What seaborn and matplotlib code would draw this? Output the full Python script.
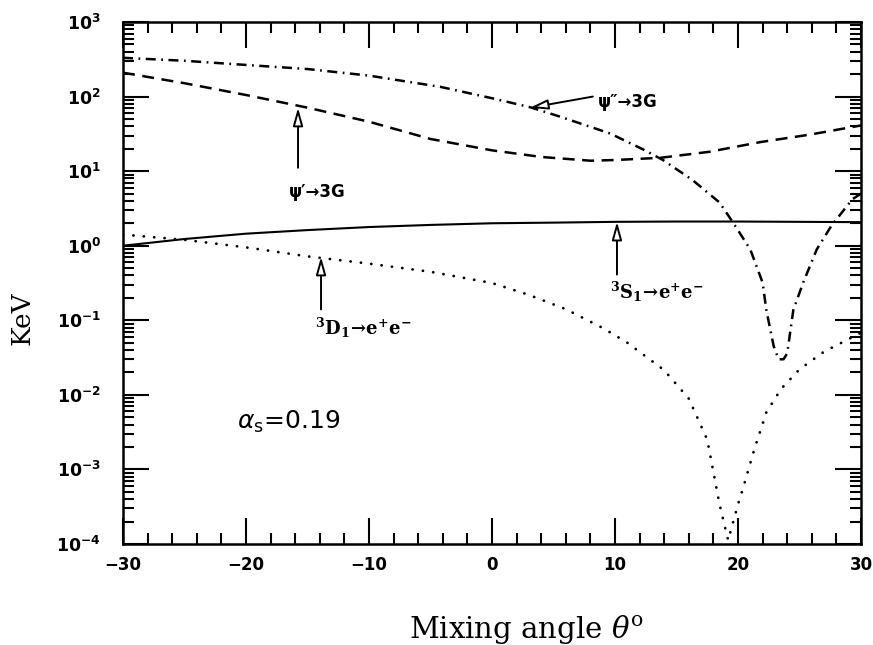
import numpy as np
import pandas as pd
import matplotlib
matplotlib.use("Agg")
import matplotlib.pyplot as plt
from matplotlib.ticker import FixedLocator, LogLocator, NullFormatter, MultipleLocator
import seaborn as sns

# Mixing angle (degrees) and widths (keV) for each decay channel
theta_psi2 = [-30, -25, -20.5, -15, -10, -4.2, 0, 3.1, 5.5, 9.6, 12.3, 13.9, 16.3, 18.5,
              19.6, 21.0, 22.0, 22.3, 22.9, 23.3, 23.7, 24.0, 24.5, 25.3, 26.4, 27.6, 29.3, 30]
width_psi2 = [331, 302, 269, 234, 191, 135, 95, 72, 54, 32, 19.5, 14.1, 7.6, 3.8,
              2.04, 0.89, 0.32, 0.138, 0.045, 0.030, 0.030, 0.036, 0.138, 0.32, 0.89, 1.86, 4.2, 5.0]

theta_psi1 = [-30, -25, -20, -15, -10, -5, 0, 4, 8, 10, 13.7, 17.7, 21.8, 25.9, 30]
width_psi1 = [209, 151, 105, 71, 46, 27, 19, 15.5, 13.8, 14.1, 15.1, 18.2, 24.5, 31, 41]

theta_s1 = [-30, -25, -20, -15, -10, -5, 0, 5, 10, 15, 20, 25, 30]
width_s1 = [1.0, 1.23, 1.45, 1.62, 1.78, 1.9, 2.0, 2.04, 2.09, 2.11, 2.11, 2.09, 2.07]

theta_d1 = [-30, -25, -20, -15, -10, -5, 0, 3, 6, 9, 11, 14, 16, 17.5, 18.5, 19.2,
            20.0, 20.5, 21.3, 22.3, 23.5, 25, 27, 29, 30]
width_d1 = [1.41, 1.20, 0.95, 0.72, 0.575, 0.447, 0.316, 0.219, 0.141, 0.079, 0.050,
            0.0214, 0.0089, 0.0025, 0.00034, 0.000112, 0.00034, 0.00063, 0.0018, 0.0058,
            0.012, 0.022, 0.038, 0.056, 0.068]

x_ticks = [-30, -20, -10, 0, 10, 20, 30]
x_tick_labels = ["\u221230", "\u221220", "\u221210", "0", "10", "20", "30"]
y_ticks = [1e-4, 1e-3, 1e-2, 1e-1, 1e0, 1e1, 1e2, 1e3]
y_exponents = ["-4", "-3", "-2", "-1", "0", "1", "2", "3"]
y_tick_labels = [r"$\mathbf{10^{%s}}$" % e for e in y_exponents]

sns.set_theme(style="ticks")
plt.rcParams["font.family"] = ["DejaVu Sans"]
plt.rcParams["text.color"] = "black"
plt.rcParams["xtick.color"] = "black"
plt.rcParams["ytick.color"] = "black"
plt.rcParams["xtick.labelcolor"] = "black"
plt.rcParams["ytick.labelcolor"] = "black"

fig = plt.figure(figsize=(8.73, 6.45), dpi=100)
ax = fig.add_axes([123 / 873, 1 - 544 / 645, (861 - 123) / 873, (544 - 22) / 645])

lw_curve = 1.8
sns.lineplot(x=theta_psi2, y=width_psi2, ax=ax, color="black", lw=lw_curve,
             linestyle=(0, (4.0, 2.2, 0.7, 2.2)), estimator=None, sort=False)
sns.lineplot(x=theta_psi1, y=width_psi1, ax=ax, color="black", lw=lw_curve,
             linestyle=(0, (4.8, 3.0)), estimator=None, sort=False)
sns.lineplot(x=theta_s1, y=width_s1, ax=ax, color="black", lw=1.5,
             linestyle="-", estimator=None, sort=False)
sns.lineplot(x=theta_d1, y=width_d1, ax=ax, color="black", lw=2.0,
             linestyle=(0, (0.05, 3.7)), dash_capstyle="round",
             estimator=None, sort=False)

ax.set_yscale("log")
ax.set_xlim(-30, 30)
ax.set_ylim(1e-4, 1e3)

# ticks inward on all four sides
ax.xaxis.set_major_locator(FixedLocator(x_ticks))
ax.xaxis.set_minor_locator(MultipleLocator(2))
ax.set_xticklabels(x_tick_labels, fontsize=12, fontweight="bold", color="black")
ax.yaxis.set_major_locator(FixedLocator(y_ticks))
ax.yaxis.set_minor_locator(LogLocator(base=10, subs=np.arange(2, 10), numticks=20))
ax.yaxis.set_minor_formatter(NullFormatter())
ax.set_yticklabels(y_tick_labels, fontsize=12.5, color="black")
for lab in ax.get_yticklabels():
    lab.set_math_fontfamily("dejavusans")

ax.tick_params(which="both", direction="in", top=True, right=True, color="black", width=1.5)
ax.tick_params(which="major", length=19)
ax.tick_params(which="minor", length=8)
ax.tick_params(axis="x", which="major", pad=9)
ax.tick_params(axis="y", which="major", pad=16)
for sp in ax.spines.values():
    sp.set_linewidth(1.8)
    sp.set_color("black")
ax.set_xlabel("")
ax.set_ylabel("")

fig.text(22 / 873, 1 - 318 / 645, "KeV", rotation=90, ha="center", va="center",
         fontsize=19, family="DejaVu Serif")
fig.text(527 / 873, 1 - 630 / 645, "Mixing angle $\\theta^{\\mathrm{o}}$", ha="center", va="center",
         fontsize=21, family="DejaVu Serif", math_fontfamily="dejavuserif")

arrow = dict(arrowstyle="-|>,head_length=0.9,head_width=0.25", fc="white", ec="black",
             lw=1.4, shrinkA=0, shrinkB=0)

ax.annotate("", xy=(-15.77, 70.8), xytext=(-15.77, 11.1), arrowprops=arrow)
ax.text(-16.5, 10 ** 0.72, "\u03c8\u2032\u21923G", ha="left", va="center",
        fontsize=12, fontweight="bold")

ax.annotate("", xy=(3.09, 70.8), xytext=(8.2, 100), arrowprops=arrow)
ax.text(8.6, 10 ** 1.93, "\u03c8\u2033\u21923G", ha="left", va="center",
        fontsize=12, fontweight="bold")

ax.annotate("", xy=(10.16, 2.09), xytext=(10.16, 0.41), arrowprops=arrow)
ax.text(9.6, 10 ** -0.62, r"$\mathbf{^{3}S_{1}\!\rightarrow\! e^{+}e^{-}}$", ha="left", va="center",
        fontsize=13, math_fontfamily="dejavuserif")

ax.annotate("", xy=(-13.9, 0.71), xytext=(-13.9, 0.14), arrowprops=arrow)
ax.text(-14.4, 10 ** -1.10, r"$\mathbf{^{3}D_{1}\!\rightarrow\! e^{+}e^{-}}$", ha="left", va="center",
        fontsize=13, math_fontfamily="dejavuserif")

ax.text(-20.7, 10 ** -2.36, r"$\alpha_{\mathsf{s}}$=0.19", ha="left", va="center",
        fontsize=18, math_fontfamily="dejavusans")

fig.savefig("out.png", dpi=100, facecolor="white")
